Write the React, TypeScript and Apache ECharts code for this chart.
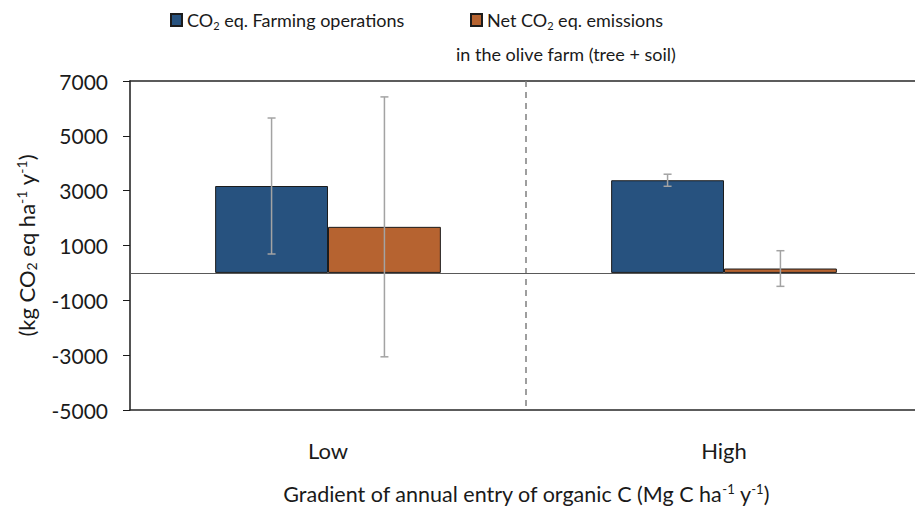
import React, { useEffect, useRef } from "react";
import * as echarts from "echarts";

const categories = ["Low", "High"];
const farmingOps = [3170, 3380];
const farmingOpsErr = [2480, 220];
const netEmissions = [1680, 160];
const netEmissionsErr = [4740, 650];
const yMin = -5000;
const yMax = 7000;
const yStep = 2000;

const FONT = "Lato";
const BAR_GAP = 0.43;

export default function App() {
  const ref = useRef<HTMLDivElement>(null);

  useEffect(() => {
    if (!ref.current) return;
    const chart = echarts.init(ref.current, undefined, { renderer: "svg" });

    const errData: number[][] = [];
    categories.forEach((_, i) => {
      errData.push([i, farmingOps[i], farmingOpsErr[i], 0]);
      errData.push([i, netEmissions[i], netEmissionsErr[i], 1]);
    });

    const rich = (size: number) => ({
      sub: { fontSize: Math.round(size * 0.62), fontFamily: FONT, color: "#1a1a1a", verticalAlign: "bottom", lineHeight: 14 },
      sup: { fontSize: Math.round(size * 0.62), fontFamily: FONT, color: "#1a1a1a", verticalAlign: "top", lineHeight: 14 },
    });

    const frameLine = { show: true, onZero: false, lineStyle: { color: "#262626", width: 1.5 } };

    const option: any = {
      animation: false,
      backgroundColor: "#ffffff",
      grid: {
        left: 130,
        top: 81,
        width: 792,
        height: 329,
        containLabel: false,
        outerBoundsMode: "none",
        show: false,
      },
      legend: [
        {
          data: ["CO2 eq. Farming operations"],
          left: 170,
          top: 9,
          padding: 0,
          icon: "rect",
          itemWidth: 11,
          itemHeight: 12,
          formatter: () => "CO{sub|2} eq. Farming operations",
          textStyle: { fontFamily: FONT, fontSize: 18, color: "#1a1a1a", lineHeight: 22, rich: rich(18) },
        },
        {
          data: ["Net CO2 eq. emissions in the olive farm (tree + soil)"],
          left: 470,
          top: 9,
          padding: 0,
          icon: "rect",
          itemWidth: 11,
          itemHeight: 12,
          formatter: () => "Net CO{sub|2} eq. emissions",
          textStyle: { fontFamily: FONT, fontSize: 18, color: "#1a1a1a", lineHeight: 22, rich: rich(18) },
        },
      ],
      graphic: [
        {
          type: "text",
          left: 456,
          top: 45,
          style: {
            text: "in the olive farm (tree + soil)",
            fontFamily: FONT,
            fontSize: 18,
            fill: "#1a1a1a",
          },
        },
      ],
      xAxis: [
        {
          type: "category",
          data: categories,
          position: "bottom",
          axisLine: frameLine,
          axisTick: { show: false },
          axisLabel: { fontFamily: FONT, fontSize: 22, color: "#1a1a1a", margin: 29 },
          name: "Gradient of annual entry of organic C (Mg C ha{sup|-1} y{sup|-1})",
          nameLocation: "middle",
          nameGap: 72,
          nameTextStyle: {
            fontFamily: FONT,
            fontSize: 21.5,
            color: "#1a1a1a",
            lineHeight: 24,
            rich: rich(21.5),
          },
        },
        {
          type: "category",
          data: categories,
          position: "top",
          axisLine: frameLine,
          axisTick: { show: false },
          axisLabel: { show: false },
        },
      ],
      yAxis: {
        type: "value",
        min: yMin,
        max: yMax,
        interval: yStep,
        axisLine: { show: true, lineStyle: { color: "#1a1a1a", width: 1.5 } },
        axisTick: { show: true, length: 7, lineStyle: { color: "#1a1a1a", width: 1 } },
        splitLine: { show: false },
        axisLabel: {
          fontFamily: FONT,
          fontSize: 21,
          color: "#1a1a1a",
          margin: 22,
          formatter: (v: number) => String(v),
        },
        name: "(kg CO{sub|2} eq ha{sup|-1} y{sup|-1})",
        nameLocation: "middle",
        nameGap: 92,
        nameTextStyle: {
          fontFamily: FONT,
          fontSize: 22,
          color: "#1a1a1a",
          lineHeight: 24,
          rich: rich(22),
        },
      },
      series: [
        {
          name: "CO2 eq. Farming operations",
          type: "bar",
          data: farmingOps,
          barGap: 0,
          barCategoryGap: BAR_GAP * 100 + "%",
          itemStyle: { color: "#27527f", borderColor: "#1c1c1c", borderWidth: 1 },
          markLine: {
            silent: true,
            symbol: ["none", "none"],
            label: { show: false },
            lineStyle: { color: "#595959", type: "solid", width: 1 },
            data: [{ yAxis: 0 }],
          },
        },
        {
          name: "Net CO2 eq. emissions in the olive farm (tree + soil)",
          type: "bar",
          data: netEmissions,
          barGap: 0,
          barCategoryGap: BAR_GAP * 100 + "%",
          itemStyle: { color: "#b66330", borderColor: "#1c1c1c", borderWidth: 1 },
        },
        {
          type: "custom",
          name: "errors",
          z: 5,
          silent: true,
          data: errData,
          encode: { x: 0, y: 1 },
          renderItem: (params: any, api: any) => {
            const ci = api.value(0);
            const mean = api.value(1);
            const err = api.value(2);
            const si = api.value(3);
            const band = api.size([1, 0])[0];
            const barW = (band * (1 - BAR_GAP)) / 2;
            const cx = api.coord([ci, 0])[0] + (si === 0 ? -barW / 2 : barW / 2);
            const top = api.coord([ci, mean + err])[1];
            const bot = api.coord([ci, mean - err])[1];
            const style = { stroke: "#a3a3a3", lineWidth: 1.5 };
            return {
              type: "group",
              children: [
                { type: "line", shape: { x1: cx, y1: top, x2: cx, y2: bot }, style },
                { type: "line", shape: { x1: cx - 4, y1: top, x2: cx + 4, y2: top }, style },
                { type: "line", shape: { x1: cx - 4, y1: bot, x2: cx + 4, y2: bot }, style },
              ],
            };
          },
        },
        {
          type: "custom",
          name: "divider",
          z: 4,
          silent: true,
          data: [[0, 0]],
          encode: { x: 0, y: 1 },
          renderItem: (params: any, api: any) => {
            const cs = params.coordSys;
            const x = (api.coord([0, 0])[0] + api.coord([1, 0])[0]) / 2;
            return {
              type: "line",
              shape: { x1: x, y1: cs.y, x2: x, y2: cs.y + cs.height },
              style: { stroke: "#7f7f7f", lineWidth: 1.5, lineDash: [6, 5] },
            };
          },
        },
      ],
    };

    chart.setOption(option);
    return () => chart.dispose();
  }, []);

  return (
    <div
      ref={ref}
      style={{ position: "absolute", left: 0, top: 0, width: 915, height: 509, background: "#fff" }}
    />
  );
}
